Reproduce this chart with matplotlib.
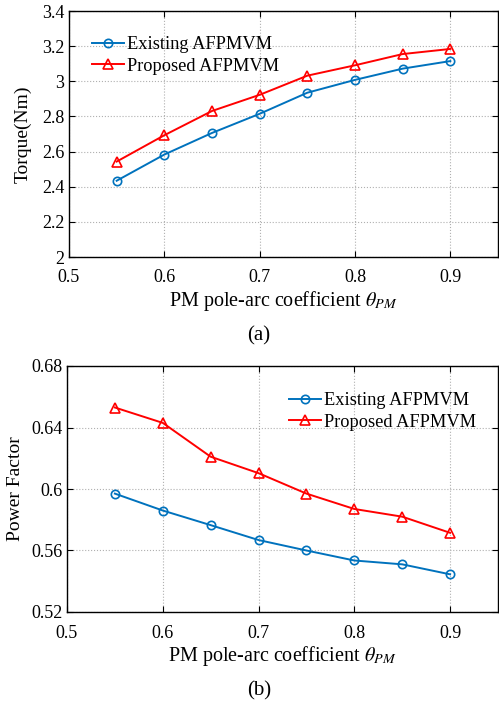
import matplotlib.pyplot as plt
from matplotlib.ticker import FuncFormatter

plt.rcParams['font.family'] = 'Liberation Serif'
plt.rcParams['mathtext.fontset'] = 'stix'

# data
theta = [0.55, 0.6, 0.65, 0.7, 0.75, 0.8, 0.85, 0.9]
torque_existing = [2.434, 2.583, 2.706, 2.815, 2.935, 3.008, 3.072, 3.115]
torque_proposed = [2.543, 2.693, 2.831, 2.923, 3.032, 3.091, 3.155, 3.184]
pf_existing = [0.597, 0.586, 0.5765, 0.5668, 0.560, 0.5535, 0.551, 0.5445]
pf_proposed = [0.653, 0.643, 0.621, 0.6103, 0.597, 0.587, 0.582, 0.5715]

blue = '#0072BD'
red = '#FF0000'
W, H = 499, 703

fig = plt.figure(figsize=(W / 100, H / 100), dpi=100)


def style_axes(ax):
    ax.tick_params(direction='in', top=True, right=True, labelsize=13, length=4, width=0.8)
    ax.tick_params(axis='x', pad=9)
    ax.grid(True, linestyle=':', color='#b0b0b0', linewidth=0.8)
    ax.yaxis.set_major_formatter(FuncFormatter(lambda v, p: '%g' % round(v, 4)))
    ax.xaxis.set_major_formatter(FuncFormatter(lambda v, p: '%g' % round(v, 4)))
    for s in ax.spines.values():
        s.set_linewidth(1.0)
    ax.set_xlim(0.5, 0.95)
    ax.set_xticks([0.5, 0.6, 0.7, 0.8, 0.9])
    ax.set_xlabel(r'PM pole-arc coefficient $\theta_{PM}$', fontsize=14.5, labelpad=1.5)


def add_legend(ax, x, y):
    ax.legend(loc='upper left', bbox_to_anchor=(x / W, 1 - y / H), bbox_transform=fig.transFigure,
              frameon=False, fontsize=13.2, handlelength=1.75, handletextpad=0.15,
              labelspacing=0.25, borderpad=0, borderaxespad=0)


# (a) torque
ax1 = fig.add_axes([69 / W, 1 - 257 / H, (498 - 69) / W, (257 - 11) / H])
ax1.plot(theta, torque_existing, '-o', color=blue, mfc='none', ms=6, mew=1.2, lw=1.4,
         label='Existing AFPMVM')
ax1.plot(theta, torque_proposed, '-^', color=red, mfc='none', ms=7, mew=1.2, lw=1.4,
         label='Proposed AFPMVM')
ax1.set_ylim(2, 3.4)
ax1.set_yticks([2, 2.2, 2.4, 2.6, 2.8, 3, 3.2, 3.4])
style_axes(ax1)
ax1.set_ylabel('Torque(Nm)', fontsize=14, labelpad=7)
add_legend(ax1, 92, 36)
fig.text(259 / W, 1 - 336 / H, '(a)', ha='center', va='center', fontsize=15)

# (b) power factor
ax2 = fig.add_axes([67 / W, 1 - 612 / H, (498 - 67) / W, (612 - 366) / H])
ax2.plot(theta, pf_existing, '-o', color=blue, mfc='none', ms=6, mew=1.2, lw=1.4,
         label='Existing AFPMVM')
ax2.plot(theta, pf_proposed, '-^', color=red, mfc='none', ms=7, mew=1.2, lw=1.4,
         label='Proposed AFPMVM')
ax2.set_ylim(0.52, 0.68)
ax2.set_yticks([0.52, 0.56, 0.6, 0.64, 0.68])
style_axes(ax2)
ax2.set_ylabel('Power Factor', fontsize=14, labelpad=5)
add_legend(ax2, 289, 392)
fig.text(259 / W, 1 - 691 / H, '(b)', ha='center', va='center', fontsize=15)

fig.savefig('out.png', dpi=100)
